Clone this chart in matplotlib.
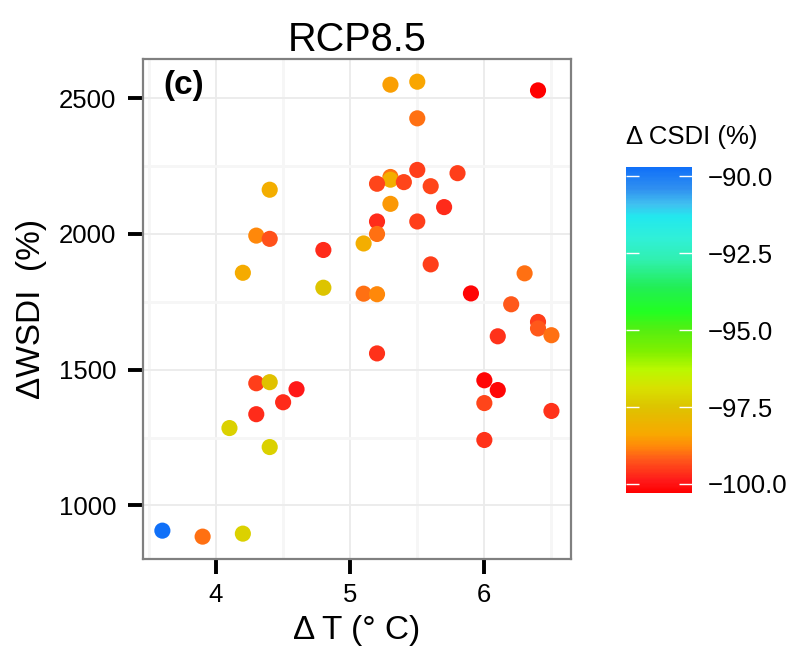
# Scatter of WSDI change vs warming, coloured by CSDI change (RCP8.5 panel c)

import numpy as np
import matplotlib
matplotlib.use("Agg")
import matplotlib.pyplot as plt
from matplotlib.colors import LinearSegmentedColormap, Normalize
from matplotlib.ticker import FuncFormatter, MultipleLocator

plt.rcParams["font.family"] = ["Liberation Sans", "DejaVu Sans"]

# data
delta_t = [3.6, 3.9, 4.2, 4.1, 4.3, 4.4, 4.6, 4.5, 4.3, 4.4,
           4.4, 4.3, 4.4, 4.8, 4.2, 4.8,
           5.3, 5.5, 6.4, 5.5, 5.5, 5.8, 5.3, 5.3, 5.2, 5.4,
           5.6, 5.3, 5.7, 5.2, 5.5, 5.2, 5.1, 5.6, 6.3, 5.1,
           5.2, 5.9, 6.2,
           6.4, 6.4, 6.5, 6.1, 5.2, 6.0, 6.1, 6.0, 6.5, 6.0]
delta_wsdi = [907, 885, 896, 1285, 1450, 1454, 1428, 1380, 1336, 1215,
              2163, 1994, 1982, 1941, 1857, 1802,
              2550, 2561, 2529, 2426, 2236, 2224, 2210, 2200, 2185, 2191,
              2176, 2111, 2099, 2046, 2046, 2000, 1965, 1888, 1855, 1780,
              1778, 1781, 1741,
              1676, 1652, 1627, 1623, 1560, 1461, 1425, 1377, 1348, 1241]
delta_csdi = [-89.7, -99.0, -97.2, -97.2, -99.5, -97.6, -99.9, -99.7, -99.7, -97.2,
              -98.2, -98.8, -99.3, -99.7, -98.3, -97.5,
              -98.5, -98.4, -100.3, -99.0, -99.5, -99.5, -99.0, -98.2, -99.4, -99.4,
              -99.4, -98.6, -99.7, -99.7, -99.5, -99.0, -98.2, -99.5, -99.0, -99.0,
              -98.8, -100.2, -99.2,
              -99.5, -99.2, -99.0, -99.6, -99.6, -100.2, -100.2, -99.4, -99.6, -99.6]
cbar_ticks = [-100.0, -97.5, -95.0, -92.5, -90.0]

x = np.array(delta_t)
y = np.array(delta_wsdi)
c = np.array(delta_csdi)
vmin, vmax = c.min(), c.max()

# rainbow-ish gradient red -> orange -> yellow -> green -> cyan -> blue
stops = [(-100.3, "#ff0000"), (-99.9, "#ff1a1a"), (-99.2, "#ff5a1a"),
         (-98.8, "#ff880a"), (-98.4, "#f8a800"), (-97.5, "#ddc400"),
         (-96.9, "#d8e000"), (-96.3, "#bbf800"), (-95.7, "#80f000"),
         (-95.0, "#55ee11"), (-94.4, "#22ff22"), (-93.6, "#22ee55"),
         (-92.7, "#30f0b0"), (-92.0, "#30f0d8"), (-91.3, "#22e8ee"),
         (-90.9, "#40c0f0"), (-90.4, "#3090f0"), (-89.7, "#1070f8")]
cmap = LinearSegmentedColormap.from_list(
    "csdi", [((v - vmin) / (vmax - vmin), col) for v, col in stops])
norm = Normalize(vmin=vmin, vmax=vmax)

fig = plt.figure(figsize=(7.94, 6.55), dpi=100)
ax = fig.add_axes([0.180, 0.146, 0.539, 0.764])

ax.set_axisbelow(True)
ax.xaxis.set_major_locator(MultipleLocator(1))
ax.xaxis.set_minor_locator(MultipleLocator(0.5))
ax.yaxis.set_major_locator(MultipleLocator(500))
ax.yaxis.set_minor_locator(MultipleLocator(250))
ax.grid(True, which="major", color="#ebebeb", linewidth=1.3)
ax.grid(True, which="minor", color="#f6f6f6", linewidth=2.0)

sc = ax.scatter(x, y, c=c, cmap=cmap, norm=norm, s=135, edgecolors="none", zorder=3)

# ggplot style 5% expansion
xr = x.max() - x.min()
yr = y.max() - y.min()
ax.set_xlim(x.min() - 0.05 * xr, x.max() + 0.05 * xr)
ax.set_ylim(y.min() - 0.05 * yr, y.max() + 0.05 * yr)

for s in ax.spines.values():
    s.set_color("#808080")
    s.set_linewidth(1.6)
ax.tick_params(which="major", length=11, width=2.8, color="black", labelsize=18.5)
ax.tick_params(axis="x", pad=6)
ax.tick_params(axis="y", pad=8)
ax.tick_params(which="minor", length=0)

ax.set_title("RCP8.5", fontsize=28.5, pad=6)
ax.set_xlabel("\u0394 T (\u00b0 C)", fontsize=24, labelpad=6)
ax.set_ylabel("\u0394WSDI  (%)", fontsize=24, labelpad=9)
ax.text(0.047, 0.978, "(c)", transform=ax.transAxes, fontsize=24,
        fontweight="bold", va="top", ha="left")

# colourbar
cax = fig.add_axes([0.788, 0.247, 0.083, 0.498])
cb = fig.colorbar(sc, cax=cax)
cb.outline.set_visible(False)
cb.set_ticks(cbar_ticks)
cb.ax.yaxis.set_major_formatter(FuncFormatter(lambda v, p: f"{v:.1f}".replace("-", "\u2212")))
cax.yaxis.set_ticks_position("both")
cax.tick_params(which="major", direction="in", length=9.5, width=1, color="white",
                labelsize=18.5, labelleft=False, labelright=True, pad=11.5)
cax.tick_params(which="minor", length=0)
fig.text(0.788, 0.773, "\u0394 CSDI (%)", fontsize=18.5, ha="left", va="bottom")

fig.savefig("out.png", dpi=100)
